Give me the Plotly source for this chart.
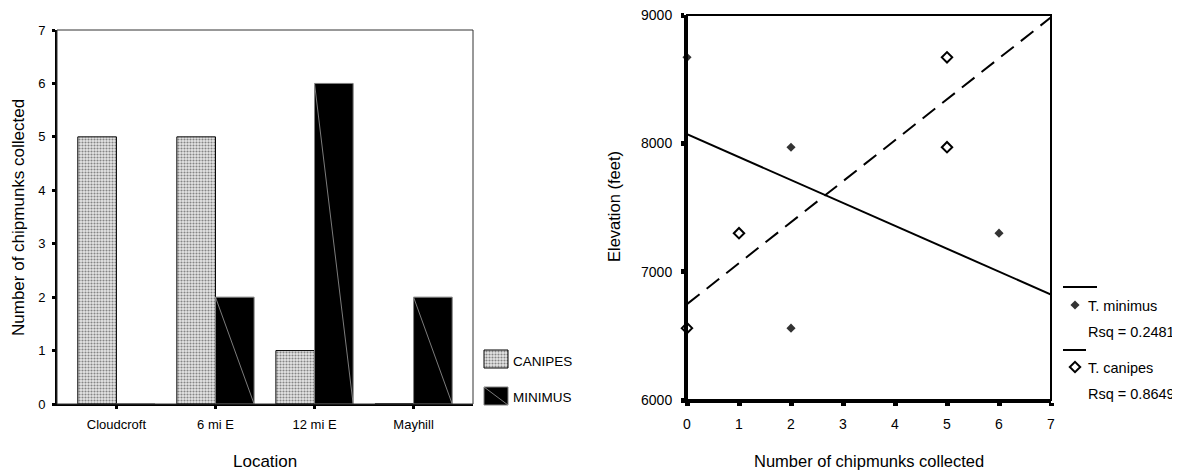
import numpy as np
import plotly.graph_objects as go

# ---------------- data ----------------
locations = ["Cloudcroft", "6 mi E", "12 mi E", "Mayhill"]
canipes_counts = [5, 5, 1, 0]
minimus_counts = [0, 2, 6, 2]
elevations = [8670, 7970, 7300, 6560]          # elevation (feet) for each location
bar_ticks = [0, 1, 2, 3, 4, 5, 6, 7]
elev_ticks = [6000, 7000, 8000, 9000]
count_ticks = [0, 1, 2, 3, 4, 5, 6, 7]
rsq_minimus = "Rsq = 0.2481"
rsq_canipes = "Rsq = 0.8649"

# the page places the figure 8px in from the top-left corner
OFF = 8
W, H = 1180 - OFF, 471 - OFF
FONT = "Liberation Sans, Arial, sans-serif"

def px(x):
    return (x - OFF) / W

def py(y):
    return 1 - (y - OFF) / H

BW = 0.39  # bar width (category units)
loc_idx = list(range(len(locations)))

fig = go.Figure()

canipes_marker = dict(
    color="#d0d0d0",
    line=dict(color="black", width=1),
    pattern=dict(shape=".", fgcolor="#858585", bgcolor="#e6e6e6", size=3, solidity=0.4),
)
minimus_marker = dict(color="black", line=dict(color="#808080", width=1))

# ---- left: grouped bars ----
fig.add_trace(go.Bar(x=loc_idx, y=canipes_counts, width=BW, offset=-BW,
                     marker=canipes_marker, xaxis="x", yaxis="y", showlegend=False))
fig.add_trace(go.Bar(x=loc_idx, y=minimus_counts, width=BW, offset=0,
                     marker=minimus_marker, xaxis="x", yaxis="y", showlegend=False))
# thin diagonal artefact inside the MINIMUS bars
dx, dy = [], []
for i, v in zip(loc_idx, minimus_counts):
    if v > 0:
        dx += [i, i + BW, None]
        dy += [v, 0, None]
fig.add_trace(go.Scatter(x=dx, y=dy, mode="lines", line=dict(color="#9a9a9a", width=0.8),
                         xaxis="x", yaxis="y", showlegend=False, hoverinfo="skip"))

# ---- right: scatter + regression lines ----
ex = np.array(elevations, dtype=float)
for counts, dash in [(minimus_counts, "solid"), (canipes_counts, "16px,9px")]:
    m, b = np.polyfit(np.array(counts, dtype=float), ex, 1)
    xs = [count_ticks[0], count_ticks[-1]]
    fig.add_trace(go.Scatter(x=xs, y=[m * x + b for x in xs], mode="lines",
                             line=dict(color="black", width=2, dash=dash),
                             xaxis="x2", yaxis="y2", showlegend=False, hoverinfo="skip",
                             cliponaxis=False))

fig.add_trace(go.Scatter(x=minimus_counts, y=elevations, mode="markers",
                         marker=dict(symbol="diamond", size=7, color="#333333"),
                         xaxis="x2", yaxis="y2", showlegend=False, cliponaxis=False))
fig.add_trace(go.Scatter(x=canipes_counts, y=elevations, mode="markers",
                         marker=dict(symbol="diamond", size=8, color="white",
                                     line=dict(color="black", width=2)),
                         xaxis="x2", yaxis="y2", showlegend=False, cliponaxis=False))

# ---- custom legends on a pixel overlay axis (window pixel coordinates) ----
fig.add_trace(go.Bar(x=[496], y=[18], base=[350], width=24, offset=-12,
                     marker=canipes_marker, xaxis="x3", yaxis="y3", showlegend=False))
fig.add_trace(go.Bar(x=[496], y=[18], base=[387], width=24, offset=-12,
                     marker=minimus_marker, xaxis="x3", yaxis="y3", showlegend=False))
fig.add_trace(go.Scatter(x=[484, 508], y=[387, 405], mode="lines",
                         line=dict(color="#9a9a9a", width=0.8),
                         xaxis="x3", yaxis="y3", showlegend=False, hoverinfo="skip"))
fig.add_trace(go.Scatter(x=[1063, 1097], y=[287, 287], mode="lines",
                         line=dict(color="black", width=2),
                         xaxis="x3", yaxis="y3", showlegend=False, hoverinfo="skip"))
fig.add_trace(go.Scatter(x=[1063, 1086], y=[350, 350], mode="lines",
                         line=dict(color="black", width=2),
                         xaxis="x3", yaxis="y3", showlegend=False, hoverinfo="skip"))
fig.add_trace(go.Scatter(x=[1075], y=[305], mode="markers",
                         marker=dict(symbol="diamond", size=7, color="#333333"),
                         xaxis="x3", yaxis="y3", showlegend=False, hoverinfo="skip"))
fig.add_trace(go.Scatter(x=[1075], y=[367], mode="markers",
                         marker=dict(symbol="diamond", size=8, color="white",
                                     line=dict(color="black", width=2)),
                         xaxis="x3", yaxis="y3", showlegend=False, hoverinfo="skip"))

ann = []
def text(x, y, s, size, xanchor="left", angle=0):
    ann.append(dict(x=px(x), y=py(y), xref="paper", yref="paper", text=s, showarrow=False,
                    xanchor=xanchor, yanchor="middle", textangle=angle,
                    font=dict(family=FONT, size=size, color="black")))

text(511, 361, "CANIPES", 13.5)
text(511, 397, "MINIMUS", 13.5)
text(1086, 306, "T. minimus", 14.5)
text(1086, 332, rsq_minimus, 14.5)
text(1086, 368, "T. canipes", 14.5)
text(1086, 394, rsq_canipes, 14.5)
# axis titles
text(265, 461, "Location", 17, xanchor="center")
text(18, 218, "Number of chipmunks collected", 17, xanchor="center", angle=-90)
text(869, 461, "Number of chipmunks collected", 16.5, xanchor="center")
text(614, 207, "Elevation (feet)", 16.5, xanchor="center", angle=-90)

tickfont_l = dict(family=FONT, size=13, color="black")
tickfont_r = dict(family=FONT, size=14, color="black")

fig.update_layout(
    template="none",
    width=W, height=H,
    margin=dict(l=0, r=0, t=0, b=0, pad=0, autoexpand=False),
    paper_bgcolor="white", plot_bgcolor="rgba(0,0,0,0)",
    barmode="overlay",
    showlegend=False,
    annotations=ann,
    xaxis=dict(domain=[px(57), px(473)], range=[-0.6, 3.6], tickvals=loc_idx, ticktext=locations,
               showline=True, linewidth=2, linecolor="black", ticks="outside", ticklen=3,
               tickwidth=3, tickcolor="black", showgrid=False, zeroline=False, automargin=False,
               tickfont=tickfont_l, ticklabelstandoff=4, ticklabeloverflow="allow",
               fixedrange=True),
    yaxis=dict(domain=[py(404), py(30)], range=[0, 7], tickvals=bar_ticks,
               showline=True, linewidth=2, linecolor="black", ticks="outside", ticklen=3,
               tickwidth=3, tickcolor="black", showgrid=False, zeroline=False, automargin=False,
               tickfont=tickfont_l, ticklabelstandoff=4, ticklabeloverflow="allow",
               fixedrange=True),
    xaxis2=dict(domain=[px(687), px(1051)], range=[0, 7], tickvals=count_ticks, anchor="y2",
                showline=True, linewidth=3, linecolor="black", ticks="outside", ticklen=3,
                tickwidth=5, tickcolor="black", showgrid=False, zeroline=False, automargin=False,
                tickfont=tickfont_r, ticklabelstandoff=6, ticklabeloverflow="allow",
                fixedrange=True),
    yaxis2=dict(domain=[py(400), py(15)], range=[6000, 9000], tickvals=elev_ticks, anchor="x2",
                showline=True, linewidth=3, linecolor="black", ticks="outside", ticklen=3,
                tickwidth=5, tickcolor="black", showgrid=False, zeroline=False, automargin=False,
                tickfont=tickfont_r, ticklabelstandoff=6, ticklabeloverflow="allow",
                fixedrange=True),
    xaxis3=dict(domain=[0, 1], range=[OFF, OFF + W], visible=False, anchor="y3",
                fixedrange=True, automargin=False),
    yaxis3=dict(domain=[0, 1], range=[OFF + H, OFF], visible=False, anchor="x3",
                fixedrange=True, automargin=False),
    shapes=[
        dict(type="rect", xref="x domain", yref="y domain", x0=0, x1=1, y0=0, y1=1,
             line=dict(color="#333333", width=1), layer="above"),
        dict(type="rect", xref="x2 domain", yref="y2 domain", x0=0, x1=1, y0=0, y1=1,
             line=dict(color="black", width=2), layer="above"),
    ],
)

fig.write_html("out.html")
